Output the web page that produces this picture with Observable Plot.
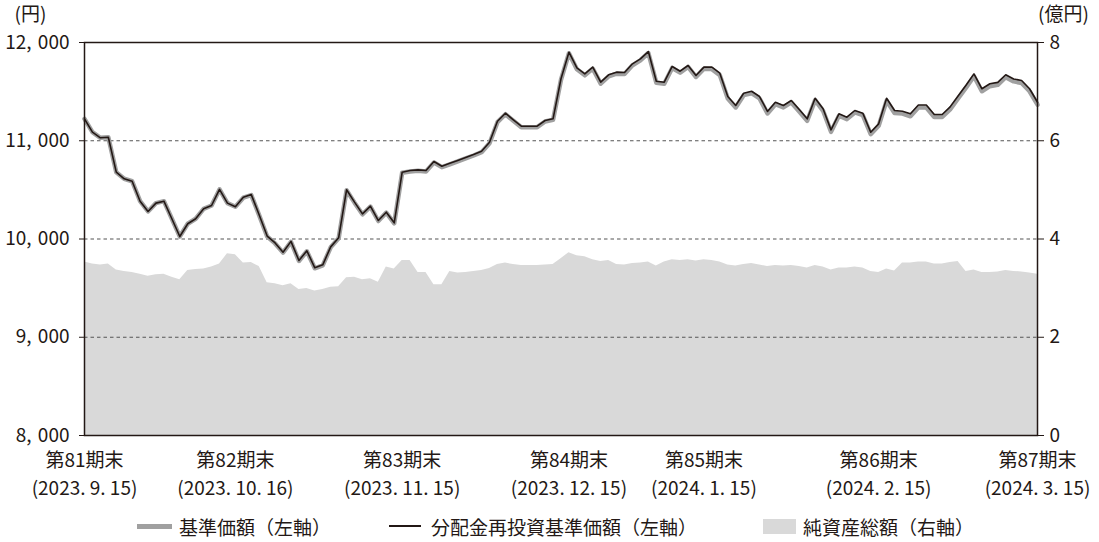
<!DOCTYPE html>
<html><head><meta charset="utf-8">
<script src="https://cdn.jsdelivr.net/npm/d3@7"></script>
<script src="https://cdn.jsdelivr.net/npm/@observablehq/plot@0.6"></script>
<style>
body{margin:0;background:#fff;font-family:"Noto Sans CJK JP","Noto Sans",sans-serif;color:#231815;}
#chart svg{display:block;}
#legend{display:flex;justify-content:flex-start;align-items:center;font-size:19px;height:32px;color:#231815;padding-left:137px;white-space:nowrap;}
#legend .item{display:flex;align-items:center;}
.sw{display:inline-block;}
</style></head><body>
<div id="chart"></div>
<div id="legend">
  <div class="item" style="margin-right:58px"><span class="sw" style="width:35px;height:5px;background:#a0a0a0;margin-right:7px"></span>基準価額（左軸）</div>
  <div class="item" style="margin-right:66px"><span class="sw" style="width:32px;height:1.6px;background:#231815;margin-right:10px"></span>分配金再投資基準価額（左軸）</div>
  <div class="item"><span class="sw" style="width:33px;height:15px;background:#d9d9d9;margin-right:7px"></span>純資産総額（右軸）</div>
</div>
<script>
// 分配金再投資基準価額 (円), one value per business day, 2023/9/15 – 2024/3/15
const reinvested = [
11223,11087,11030,11036,10680,10613,10588,10385,10280,10365,
10385,10206,10025,10155,10206,10307,10341,10505,10365,10328,
10425,10452,10245,10030,9960,9866,9976,9781,9880,9707,
9737,9920,10012,10501,10375,10256,10334,10188,10273,10165,
10680,10697,10704,10697,10789,10741,10770,10800,10830,10860,
10894,10985,11199,11280,11213,11148,11148,11148,11206,11223,
11631,11901,11742,11681,11749,11596,11671,11698,11695,11783,
11834,11908,11606,11596,11756,11708,11766,11664,11749,11749,
11688,11450,11359,11484,11504,11450,11298,11392,11359,11410,
11318,11223,11433,11325,11111,11274,11240,11308,11281,11087,
11172,11433,11308,11301,11274,11364,11364,11267,11267,11345,
11455,11565,11681,11529,11580,11594,11672,11629,11613,11529,
11392];
// 基準価額 (円)
const nav = [
11223,11087,11030,11036,10680,10613,10588,10385,10280,10365,
10385,10206,10025,10155,10206,10307,10341,10505,10365,10328,
10420,10447,10240,10025,9955,9861,9971,9776,9875,9702,
9732,9915,10007,10496,10370,10251,10329,10183,10268,10160,
10675,10687,10694,10687,10779,10731,10760,10790,10820,10850,
10884,10975,11189,11270,11203,11138,11138,11138,11196,11213,
11621,11891,11727,11666,11734,11581,11656,11683,11680,11768,
11819,11893,11591,11581,11741,11693,11751,11649,11734,11729,
11668,11430,11339,11464,11484,11430,11278,11372,11339,11390,
11298,11203,11413,11305,11091,11254,11220,11288,11261,11067,
11152,11408,11283,11276,11249,11339,11339,11242,11242,11320,
11430,11540,11656,11504,11555,11569,11647,11604,11588,11504,
11367];
// 純資産総額 (億円)
const netAssets = [
3.53,3.49,3.47,3.49,3.37,3.34,3.32,3.28,3.24,3.27,
3.28,3.22,3.17,3.36,3.38,3.39,3.43,3.49,3.70,3.68,
3.51,3.52,3.44,3.11,3.09,3.05,3.09,2.97,2.99,2.94,
2.97,3.02,3.03,3.21,3.22,3.17,3.19,3.12,3.43,3.39,
3.56,3.56,3.32,3.32,3.07,3.07,3.34,3.31,3.32,3.34,
3.36,3.40,3.48,3.51,3.48,3.46,3.46,3.46,3.47,3.48,
3.60,3.72,3.66,3.64,3.58,3.54,3.56,3.48,3.47,3.50,
3.51,3.53,3.45,3.53,3.58,3.56,3.58,3.55,3.58,3.56,
3.53,3.47,3.45,3.48,3.50,3.47,3.44,3.46,3.45,3.46,
3.44,3.41,3.46,3.43,3.37,3.41,3.41,3.43,3.41,3.34,
3.32,3.39,3.35,3.51,3.51,3.53,3.53,3.49,3.49,3.52,
3.54,3.34,3.37,3.32,3.32,3.33,3.36,3.34,3.33,3.31,
3.28];
// x-axis ticks: business-day index of each period end
const tickIndex = [0, 19, 40, 61, 78, 100, 120];
const tickLabels = [
  "第81期末\n(2023. 9. 15)",
  "第82期末\n(2023. 10. 16)",
  "第83期末\n(2023. 11. 15)",
  "第84期末\n(2023. 12. 15)",
  "第85期末\n(2024. 1. 15)",
  "第86期末\n(2024. 2. 15)",
  "第87期末\n(2024. 3. 15)"
];
const leftTicks = [8000, 9000, 10000, 11000, 12000];
const leftTickLabels = ["8,\u2004000", "9,\u2004000", "10,\u2004000", "11,\u2004000", "12,\u2004000"];
const gridTicks = [9000, 10000, 11000];
const rightTickLabels = ["0", "2", "4", "6", "8"];

const data = reinvested.map((v, i) => ({i, reinvested: v, nav: nav[i], assets: netAssets[i]}));
const labelMap = new Map(tickIndex.map((t, k) => [t, tickLabels[k]]));
const leftMap = new Map(leftTicks.map((t, k) => [t, leftTickLabels[k]]));
const rightMap = new Map(leftTicks.map((t, k) => [t, rightTickLabels[k]]));
// right axis 0–8 億円 mapped onto left scale 8000–12000
const toLeft = v => 8000 + v * 500;
const FS = 19;

const plot = Plot.plot({
  width: 1099,
  height: 510,
  marginTop: 42,
  marginBottom: 75,
  marginLeft: 84,
  marginRight: 62,
  style: {fontFamily: '"Noto Sans CJK JP","Noto Sans",sans-serif', fontSize: FS + "px", color: "#231815", background: "#fff"},
  x: {domain: [0, 120]},
  y: {domain: [8000, 12000]},
  marks: [
    Plot.areaY(data, {x: "i", y1: 8000, y2: d => toLeft(d.assets), fill: "#d9d9d9"}),
    Plot.ruleY(gridTicks, {stroke: "#555", strokeWidth: 1.2, strokeDasharray: "3.5,3"}),
    Plot.lineY(data, {x: "i", y: "nav", stroke: "#a0a0a0", strokeWidth: 4.5}),
    Plot.lineY(data, {x: "i", y: "reinvested", stroke: "#231815", strokeWidth: 1.6}),
    Plot.frame({stroke: "#231815", strokeWidth: 1.5}),
    Plot.axisY(leftTicks, {anchor: "left", tickFormat: d => leftMap.get(d), tickSize: 5, tickPadding: 10, label: null, fontSize: FS}),
    Plot.axisY(leftTicks, {anchor: "right", tickFormat: d => rightMap.get(d), tickSize: 6, tickPadding: 6, label: null, fontSize: FS}),
    Plot.axisX(tickIndex, {tickFormat: d => labelMap.get(d), tickSize: 0, tickPadding: 12, lineHeight: 1.45, label: null, fontSize: FS}),
    Plot.text(["(円)"], {text: d => d, frameAnchor: "top-left", textAnchor: "middle", lineAnchor: "middle", dx: -54, dy: -28, fontSize: FS, fill: "#231815"}),
    Plot.text(["(億円)"], {text: d => d, frameAnchor: "top-right", textAnchor: "middle", lineAnchor: "middle", dx: 26, dy: -28, fontSize: FS, fill: "#231815"})
  ]
});
document.getElementById("chart").appendChild(plot);
</script>
</body></html>
